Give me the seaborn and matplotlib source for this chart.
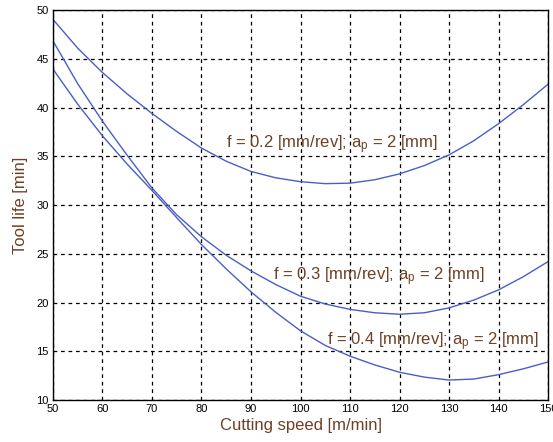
# import libraries
import pandas as pd
import numpy as np
import matplotlib
matplotlib.use("Agg")
import matplotlib.pyplot as plt
import seaborn as sns


# cutting speed values [m/min]
speed = [50, 55, 60, 65, 70, 75, 80, 85, 90, 95, 100,
         105, 110, 115, 120, 125, 130, 135, 140, 145, 150]

# tool life [min] for each feed rate
life_f02 = [49.05, 46.1, 43.6, 41.4, 39.4, 37.55, 35.85, 34.5, 33.45, 32.8, 32.4,
            32.2, 32.25, 32.6, 33.2, 34.05, 35.15, 36.6, 38.35, 40.3, 42.4]
life_f03 = [46.85, 42.45, 38.6, 35.1, 31.75, 29.0, 26.75, 24.85, 23.25, 21.85, 20.65,
            19.85, 19.3, 18.95, 18.8, 18.95, 19.45, 20.25, 21.3, 22.65, 24.2]
life_f04 = [43.95, 40.35, 37.1, 34.2, 31.5, 28.7, 25.95, 23.45, 21.1, 19.0, 17.1,
            15.6, 14.5, 13.6, 12.85, 12.35, 12.05, 12.15, 12.6, 13.2, 13.9]

series_names = ["f = 0.2", "f = 0.3", "f = 0.4"]

# annotation texts
labels = [
    "f = 0.2 [mm/rev]; a$_\\mathrm{p}$ = 2 [mm]",
    "f = 0.3 [mm/rev]; a$_\\mathrm{p}$ = 2 [mm]",
    "f = 0.4 [mm/rev]; a$_\\mathrm{p}$ = 2 [mm]",
]
label_x = [85, 94.4, 105.3]
label_y = [36.2, 22.65, 16.0]


# long table for seaborn
df = pd.DataFrame({
    "speed": speed * 3,
    "life": life_f02 + life_f03 + life_f04,
    "series": np.repeat(series_names, len(speed)),
})


# style
sns.set_style("white")
plt.rcParams["font.family"] = ["Liberation Sans", "DejaVu Sans"]
plt.rcParams["mathtext.fontset"] = "custom"
plt.rcParams["mathtext.rm"] = "Liberation Sans"
plt.rcParams["mathtext.it"] = "Liberation Sans:italic"

text_color = "#6e4024"
line_color = "#4a5fc4"


# plot
fig = plt.figure(figsize=(5.53, 4.42), dpi=100)
ax = fig.add_axes([0.0958, 0.095, 0.8952, 0.882])

sns.lineplot(
    data=df,
    x="speed",
    y="life",
    hue="series",
    palette=[line_color] * 3,
    linewidth=1.0,
    legend=False,
    ax=ax
)

for txt, tx, ty in zip(labels, label_x, label_y):
    ax.text(tx, ty, txt, fontsize=12, color=text_color, va="center", ha="left")

ax.set_xlim(50, 150)
ax.set_ylim(10, 50)
ax.set_xticks(range(50, 151, 10))
ax.set_yticks(range(10, 51, 5))

ax.grid(True, color="black", linestyle=(0, (3, 3)), linewidth=0.9)
ax.tick_params(direction="in", length=3, labelsize=8, colors="black", pad=3)

for sp in ax.spines.values():
    sp.set_color("black")
    sp.set_linewidth(1.0)

ax.set_xlabel("Cutting speed [m/min]", fontsize=12, color=text_color, labelpad=3)
ax.set_ylabel("Tool life [min]", fontsize=12, color=text_color, labelpad=6)

plt.savefig("out.png", dpi=100)
